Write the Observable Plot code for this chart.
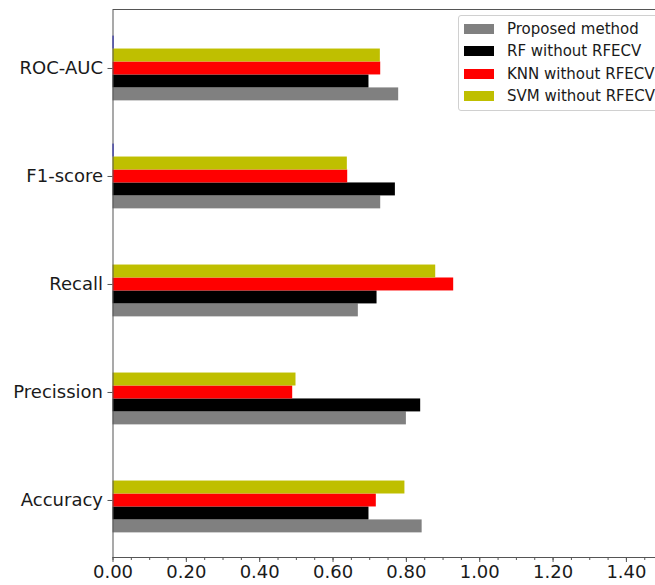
<!DOCTYPE html>
<html>
<head>
<meta charset="utf-8">
<script src="https://cdn.jsdelivr.net/npm/d3@7"></script>
<script src="https://cdn.jsdelivr.net/npm/@observablehq/plot@0.6"></script>
<style>
  html, body { margin: 0; padding: 0; background: white; overflow: hidden; }
  #wrap { position: relative; width: 655px; height: 585px; overflow: hidden; background: white; }
  #legend { position: absolute; left: 458px; top: 15px; width: 210px; padding: 2px 0 3px 5px;
    border: 1px solid #d0d0d0; border-radius: 3px; background: rgba(255,255,255,0.85);
    font-family: "DejaVu Sans", sans-serif; font-size: 15px; color: #1a1a1a; box-sizing: border-box; }
  .row { display: flex; align-items: center; height: 22.3px; }
  .sw { width: 30px; height: 10px; margin-right: 13px; flex: none; }
</style>
</head>
<body>
<div id="wrap"><div id="legend"></div></div>
<script>
const categories = ["Accuracy", "Precission", "Recall", "F1-score", "ROC-AUC"];
const seriesNames = ["Proposed method", "RF without RFECV", "KNN without RFECV", "SVM without RFECV", "extra"];
const seriesColors = ["#808080", "#000000", "#ff0000", "#bfbf00", "#0000ff"];
const proposed = [0.843, 0.800, 0.669, 0.730, 0.779];
const rf       = [0.698, 0.839, 0.720, 0.770, 0.698];
const knn      = [0.718, 0.490, 0.929, 0.640, 0.730];
const svm      = [0.796, 0.499, 0.880, 0.639, 0.729];
const extra    = [0, 0, 0, 0.003, 0.003];
const xTicks = [0, 0.2, 0.4, 0.6, 0.8, 1.0, 1.2, 1.4];

const allSeries = [proposed, rf, knn, svm, extra];
const w = 0.12;
const rows = [];
allSeries.forEach((vals, k) => vals.forEach((v, i) => rows.push({cat: i, k, value: v, name: seriesNames[k]})));

const minor = d3.range(0, 33).map(i => i * 0.05);

const chart = Plot.plot({
  width: 700, height: 585,
  marginLeft: 112.5, marginRight: 0, marginTop: 9, marginBottom: 28,
  x: {domain: [0, 1.602]},
  y: {domain: [-0.528, 4.546]},
  color: {domain: seriesNames, range: seriesColors},
  style: {fontFamily: "DejaVu Sans", fontSize: "18px", maxWidth: "none", background: "white", color: "#1a1a1a"},
  marks: [
    Plot.rect(rows, {
      x1: 0, x2: "value",
      y1: d => d.cat + (d.k - 2) * w - w / 2,
      y2: d => d.cat + (d.k - 2) * w + w / 2,
      fill: "name"
    }),
    Plot.frame({stroke: "#555"}),
    Plot.axisX({ticks: minor, tickSize: 3, tickFormat: () => "", label: null, stroke: "#555"}),
    Plot.axisX({ticks: xTicks, tickFormat: d3.format(".2f"), tickSize: 5, tickPadding: 3, label: null, stroke: "#555", fontSize: 18}),
    Plot.axisY({ticks: [0, 1, 2, 3, 4], tickFormat: i => categories[i], tickSize: 5, tickPadding: 5, label: null, stroke: "#555", fontSize: 18})
  ]
});
document.getElementById("wrap").prepend(chart);

const legend = document.getElementById("legend");
seriesNames.slice(0, 4).forEach((n, k) => {
  const r = document.createElement("div");
  r.className = "row";
  r.innerHTML = `<span class="sw" style="background:${seriesColors[k]}"></span><span>${n}</span>`;
  legend.appendChild(r);
});
</script>
</body>
</html>
